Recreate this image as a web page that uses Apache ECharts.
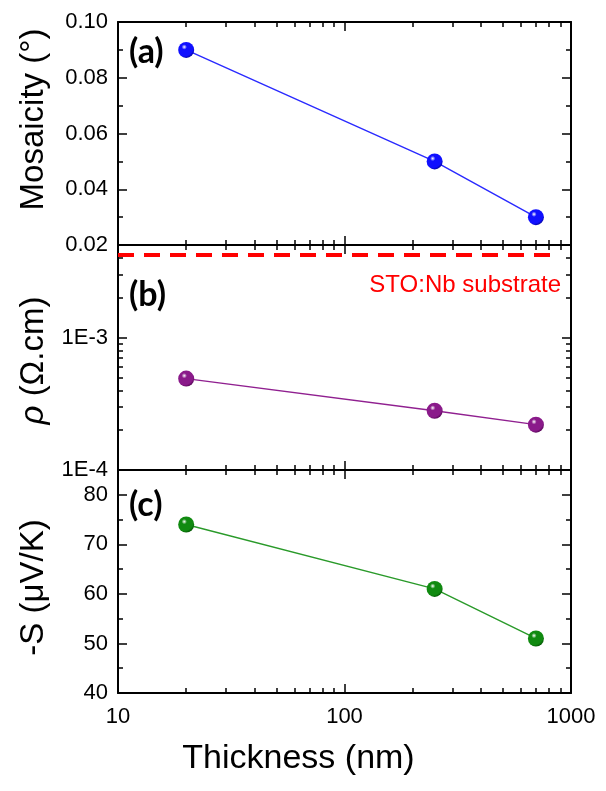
<!DOCTYPE html>
<html>
<head>
<meta charset="utf-8">
<script src="https://cdn.jsdelivr.net/npm/echarts@6/dist/echarts.min.js"></script>
<style>
  html, body { margin: 0; padding: 0; background: #fff; }
  #chart { width: 606px; height: 791px; }
</style>
</head>
<body>
<div id="chart"></div>
<script>
// Film thickness (nm) and the three measured quantities
const thickness = [20, 250, 700];
const mosaicity = [0.09, 0.05, 0.03];          // degrees
const resistivity = [4.9e-4, 2.8e-4, 2.2e-4];  // Ohm.cm
const seebeck = [74, 61, 51];                  // -S, uV/K
const substrateResistivity = 4.2e-3;           // STO:Nb reference level

// Tick positions
const thicknessTicks = [10, 100, 1000];
const thicknessMinorTicks = [20, 30, 40, 50, 60, 70, 80, 90, 200, 300, 400, 500, 600, 700, 800, 900];
const mosaicityTicks = [0.02, 0.04, 0.06, 0.08, 0.10];
const mosaicityMinorTicks = [0.03, 0.05, 0.07, 0.09];
const resistivityTicks = [1e-4, 1e-3];
const resistivityMinorTicks = [2e-4, 3e-4, 4e-4, 5e-4, 6e-4, 7e-4, 8e-4, 9e-4, 2e-3, 3e-3, 4e-3];
const seebeckTicks = [40, 50, 60, 70, 80];
const seebeckMinorTicks = [45, 55, 65, 75];

const FONT = 'Liberation Sans, Arial, sans-serif';

function ball(base, dark) {
  return {
    type: 'radial', x: 0.38, y: 0.32, r: 0.75,
    colorStops: [
      { offset: 0, color: '#ffffff' },
      { offset: 0.22, color: base },
      { offset: 0.75, color: base },
      { offset: 1, color: dark }
    ]
  };
}

const panels = [
  {
    top: 22, height: 223, yType: 'value', yMin: 0.02, yMax: 0.10,
    ticks: mosaicityTicks, minor: mosaicityMinorTicks,
    name: 'Mosaicity (°)', namePad: [0, 0, 0, 28], fmt: v => v.toFixed(2),
    values: mosaicity, line: '#2a2aff', marker: ball('#1010ff', '#00008a')
  },
  {
    top: 245, height: 225, yType: 'log', yMin: 1e-4, yMax: 5e-3,
    ticks: resistivityTicks, minor: resistivityMinorTicks,
    name: '{i|ρ} (Ω.cm)', namePad: [0, 6, 0, 0], fmt: v => '1E' + Math.round(Math.log10(v)),
    values: resistivity, line: '#902090', marker: ball('#8a1a8a', '#4a004a')
  },
  {
    top: 470, height: 223, yType: 'value', yMin: 40, yMax: 85,
    ticks: seebeckTicks, minor: seebeckMinorTicks,
    name: '-S (μV/K)', namePad: [0, 12, 0, 0], fmt: v => String(Math.round(v)),
    values: seebeck, line: '#2a9a2a', marker: ball('#108a10', '#004a00')
  }
];

const grids = [];
const xAxes = [];
const yAxes = [];
const series = [];

const black = '#000';
const MAJOR_LEN = 9;
const MINOR_LEN = 5;

function xAxisDef(gridIndex, position, major, showLabel, withName) {
  return {
    gridIndex, type: 'log', logBase: 10, min: 10, max: 1000, position,
    axisLine: { show: major, onZero: false, lineStyle: { color: black, width: 2 } },
    axisTick: {
      show: true, inside: true, length: major ? MAJOR_LEN : MINOR_LEN,
      lineStyle: { color: black, width: 1.5 },
      customValues: major ? thicknessTicks : thicknessMinorTicks
    },
    axisLabel: {
      show: showLabel, customValues: thicknessTicks, margin: 13,
      color: black, fontSize: 22, fontFamily: FONT,
      formatter: v => String(Math.round(v))
    },
    splitLine: { show: false },
    name: withName ? 'Thickness (nm)' : '',
    nameLocation: 'middle', nameGap: 49,
    nameTextStyle: { color: black, fontSize: 34, fontFamily: FONT, padding: [0, 92, 0, 0] }
  };
}

function yAxisDef(gridIndex, p, position, major, showLabel, withName) {
  return {
    gridIndex, type: p.yType, logBase: 10, min: p.yMin, max: p.yMax, position,
    axisLine: { show: major, onZero: false, lineStyle: { color: black, width: 2 } },
    axisTick: {
      show: true, inside: true, length: major ? MAJOR_LEN : MINOR_LEN,
      lineStyle: { color: black, width: 1.5 },
      customValues: major ? p.ticks : p.minor
    },
    axisLabel: {
      show: showLabel, customValues: p.ticks, margin: 10,
      color: black, fontSize: 22, fontFamily: FONT, formatter: p.fmt
    },
    splitLine: { show: false },
    name: withName ? p.name : '',
    nameLocation: 'middle', nameGap: 68, nameRotate: 90,
    nameTextStyle: {
      color: black, fontSize: 33, fontFamily: FONT, padding: p.namePad,
      rich: { i: { fontStyle: 'italic', fontSize: 33, fontFamily: FONT, color: black } }
    }
  };
}

// Major-tick grids (0..2) carry the data; minor-tick grids (3..5) overlay them
panels.forEach(p => grids.push({ left: 118, right: 35, top: p.top, height: p.height }));
panels.forEach(p => grids.push({ left: 118, right: 35, top: p.top, height: p.height }));

grids.forEach((g, gi) => {
  const pi = gi % 3;
  const major = gi < 3;
  const p = panels[pi];
  xAxes.push(xAxisDef(gi, 'bottom', major, major && pi === 2, major && pi === 2));
  xAxes.push(xAxisDef(gi, 'top', major, false, false));
  yAxes.push(yAxisDef(gi, p, 'left', major, major, major));
  yAxes.push(yAxisDef(gi, p, 'right', major, false, false));
});

panels.forEach((p, i) => {
  const s = {
    type: 'line',
    xAxisIndex: 2 * i,
    yAxisIndex: 2 * i,
    data: thickness.map((t, k) => [t, p.values[k]]),
    symbol: 'circle',
    symbolSize: 16,
    lineStyle: { color: p.line, width: 1.4 },
    itemStyle: { color: p.marker },
    emphasis: { disabled: true },
    animation: false,
    z: 5
  };
  if (i === 1) {
    s.markLine = {
      silent: true,
      symbol: 'none',
      animation: false,
      label: { show: false },
      lineStyle: { color: '#ff0000', width: 4, type: [16, 10] },
      data: [[{ coord: [10, substrateResistivity] }, { coord: [850, substrateResistivity] }]]
    };
  }
  series.push(s);
});

const panelLabels = ['(a)', '(b)', '(c)'];
const panelLabelY = [52, 295, 505];

const graphic = panelLabels.map((t, i) => ({
  type: 'text', x: 129, y: panelLabelY[i], z: 10,
  style: {
    text: t, fill: black, font: 'bold 34px Lato, "Open Sans", sans-serif',
    verticalAlign: 'middle', align: 'left'
  }
}));
graphic.push({
  type: 'text', x: 561, y: 285, z: 10,
  style: {
    text: 'STO:Nb substrate', fill: '#ff0000', font: '24px ' + FONT,
    align: 'right', verticalAlign: 'middle'
  }
});

const chart = echarts.init(document.getElementById('chart'), null, { renderer: 'canvas' });
chart.setOption({
  backgroundColor: '#ffffff',
  animation: false,
  grid: grids,
  xAxis: xAxes,
  yAxis: yAxes,
  series,
  graphic
});
</script>
</body>
</html>
